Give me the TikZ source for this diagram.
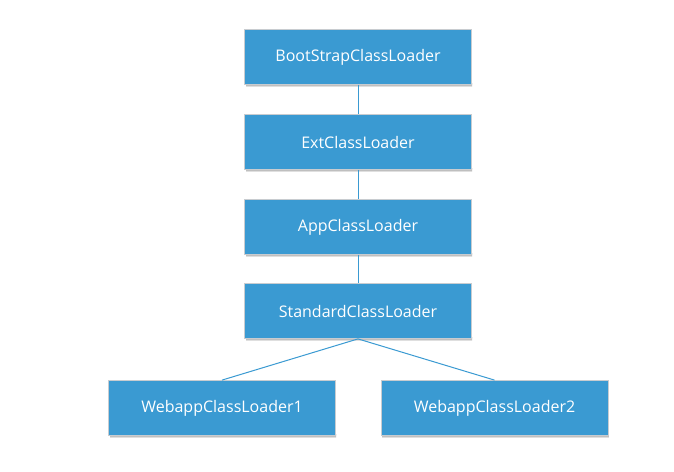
\documentclass[tikz,border=0pt]{standalone}
\usepackage{fontspec}
\setmainfont{Open Sans}
\definecolor{boxblue}{HTML}{3A9AD2}
\definecolor{boxedge}{HTML}{C8CCD0}
\definecolor{shade}{HTML}{DCEBF6}
\tikzset{
  loader/.style={draw=boxedge, line width=0.8pt, fill=boxblue, text=white,
    minimum width=227pt, minimum height=55pt, inner sep=0pt, font=\fontsize{16}{19}\selectfont},
  link/.style={draw=boxblue, line width=1pt}
}
\begin{document}
\begin{tikzpicture}[x=1pt,y=-1pt]
\useasboundingbox (0,0) rectangle (674,471);
\fill[white] (0,0) rectangle (674,471);
% shadows
\foreach \cx/\cy in {358/57, 358/142, 358/227, 358/311, 222/408, 494.5/408}
  \fill[shade] (\cx-112,\cy+26) rectangle (\cx+114,\cy+30);
\node[loader] (boot) at (358,57) {BootStrapClassLoader};
\node[loader] (ext) at (358,142) {ExtClassLoader};
\node[loader] (app) at (358,227) {AppClassLoader};
\node[loader] (std) at (358,311) {StandardClassLoader};
\node[loader] (w1) at (222,408) {WebappClassLoader1};
\node[loader] (w2) at (494.5,408) {WebappClassLoader2};
\draw[link] (boot.south) -- (ext.north);
\draw[link] (ext.south) -- (app.north);
\draw[link] (app.south) -- (std.north);
\draw[link] (std.south) -- (w1.north);
\draw[link] (std.south) -- (w2.north);
\end{tikzpicture}
\end{document}
